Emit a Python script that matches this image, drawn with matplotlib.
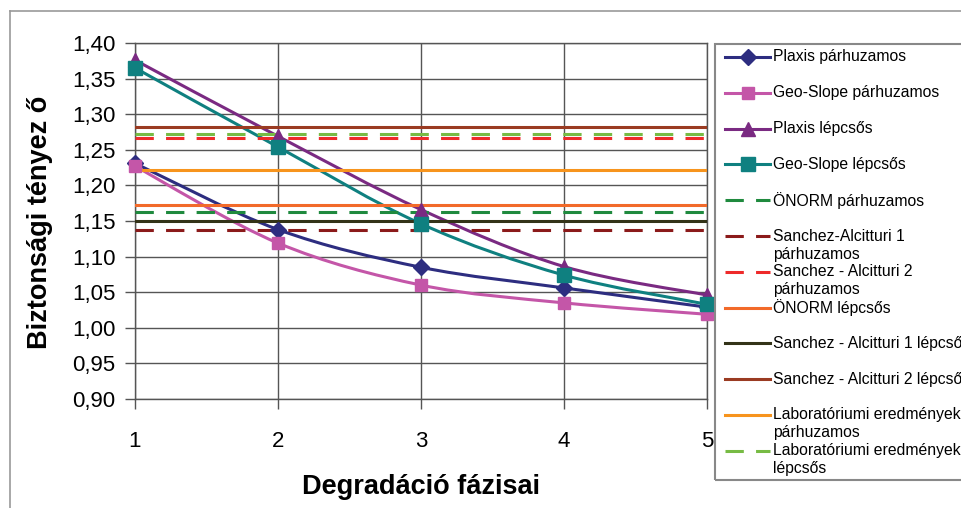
import numpy as np
import matplotlib.pyplot as plt
from matplotlib.path import Path
from matplotlib.patches import PathPatch, Rectangle
from matplotlib.lines import Line2D

plt.rcParams['font.family'] = ['Liberation Sans', 'DejaVu Sans']

# data
phases = [1, 2, 3, 4, 5]
plaxis_par = [1.231, 1.138, 1.085, 1.056, 1.029]
geoslope_par = [1.227, 1.119, 1.060, 1.035, 1.019]
plaxis_lep = [1.376, 1.269, 1.166, 1.086, 1.046]
geoslope_lep = [1.365, 1.254, 1.146, 1.074, 1.033]

onorm_par = 1.163
sanchez1_par = 1.137
sanchez2_par = 1.266
onorm_lep = 1.173
sanchez1_lep = 1.150
sanchez2_lep = 1.282
lab_par = 1.221
lab_lep = 1.272

y_ticks = [0.90, 0.95, 1.00, 1.05, 1.10, 1.15, 1.20, 1.25, 1.30, 1.35, 1.40]

W, H = 961, 508
fig = plt.figure(figsize=(W / 100, H / 100), dpi=100)
ax = fig.add_axes([135 / W, 1 - 399 / H, (707 - 135) / W, (399 - 43) / H])


def px(x, y):
    # pixel position -> figure fraction
    return x / W, 1 - y / H


def smooth_path(xs, ys):
    # bezier curve through the points (like Excel smoothed lines)
    p = np.column_stack([xs, ys]).astype(float)
    n = len(p)
    verts = [p[0]]
    codes = [Path.MOVETO]
    for i in range(n - 1):
        p0 = p[i - 1] if i > 0 else p[i]
        p3 = p[i + 2] if i + 2 < n else p[i + 1]
        c1 = p[i] + (p[i + 1] - p0) / 6
        c2 = p[i + 1] - (p3 - p[i]) / 6
        verts += [c1, c2, p[i + 1]]
        codes += [Path.CURVE4] * 3
    return Path(verts, codes)


series = [
    ("Plaxis párhuzamos", plaxis_par, '#2d2d80', 'D', 8),
    ("Geo-Slope párhuzamos", geoslope_par, '#c456a8', 's', 9),
    ("Plaxis lépcsős", plaxis_lep, '#7a2a82', '^', 10),
    ("Geo-Slope lépcsős", geoslope_lep, '#0f8080', 's', 10),
]

hlines = [
    ("ÖNORM párhuzamos", onorm_par, '#1f8a3e', True),
    ("Sanchez-Alcitturi 1\npárhuzamos", sanchez1_par, '#8b1a1a', True),
    ("Sanchez - Alcitturi 2\npárhuzamos", sanchez2_par, '#ee2a2a', True),
    ("ÖNORM lépcsős", onorm_lep, '#f26a2a', False),
    ("Sanchez - Alcitturi 1 lépcsős", sanchez1_lep, '#333318', False),
    ("Sanchez - Alcitturi 2 lépcsős", sanchez2_lep, '#9a3b22', False),
    ("Laboratóriumi eredmények\npárhuzamos", lab_par, '#f7941d', False),
    ("Laboratóriumi eredmények\nlépcsős", lab_lep, '#77bb44', True),
]

lw = 2.2
for label, vals, color, marker, ms in series:
    ax.add_patch(PathPatch(smooth_path(phases, vals), fill=False,
                           edgecolor=color, lw=lw, zorder=3))
for label, val, color, dashed in hlines:
    if dashed:
        ax.axhline(val, color=color, lw=lw, dashes=(6, 4), zorder=4)
    else:
        ax.axhline(val, color=color, lw=lw, zorder=4)
for label, vals, color, marker, ms in series:
    ax.plot(phases, vals, linestyle='none', marker=marker, ms=ms,
            color=color, zorder=5, clip_on=False)

ax.set_xlim(1, 5)
ax.set_ylim(0.90, 1.40)
ax.set_xticks(phases)
ax.set_yticks(y_ticks)
ax.set_yticklabels([f"{v:.2f}".replace('.', ',') for v in y_ticks])
ax.tick_params(axis='both', labelsize=16, length=7, width=1, color='#555555')
ax.tick_params(axis='y', pad=7)
ax.tick_params(axis='x', pad=16)
ax.grid(True, color='#555555', lw=1)
ax.set_axisbelow(True)
for s in ax.spines.values():
    s.set_color('#555555')
    s.set_linewidth(1)

fig.text(*px(40, 222), "Biztonsági tényez ő", rotation=90, fontsize=19.5,
         fontweight='bold', ha='center', va='center')
fig.text(*px(421, 487), "Degradáció fázisai", fontsize=19.5,
         fontweight='bold', ha='center', va='center')

# outer chart border (cut by the image edge)
fig.add_artist(Line2D([10 / W, 10 / W], [0, 1 - 11 / H], color='#999999', lw=1.2))
fig.add_artist(Line2D([10 / W, 1], [1 - 11 / H, 1 - 11 / H], color='#999999', lw=1.2))

# legend box drawn by hand
fig.add_artist(Rectangle(px(715, 480), (300) / W, (480 - 44) / H,
                         transform=fig.transFigure, fill=False,
                         edgecolor='#888888', lw=1.5))
entries = [(l, c, m, ms, False) for l, v, c, m, ms in series] + \
          [(l, c, None, 0, d) for l, v, c, d in hlines]
y0 = 57
step = 35.8
for i, (label, color, marker, ms, dashed) in enumerate(entries):
    yh = y0 + i * step
    xa, ya = px(725, yh)
    xb, _ = px(770, yh)
    ln = Line2D([xa, xb], [ya, ya], color=color, lw=lw)
    if dashed:
        ln.set_dashes((6, 4))
    fig.add_artist(ln)
    if marker:
        fig.add_artist(Line2D([(xa + xb) / 2], [ya], marker=marker, ms=ms,
                              color=color, linestyle='none'))
    for k, part in enumerate(label.split('\n')):
        fig.text(*px(773, yh + k * 18), part, fontsize=11.3, ha='left', va='center')

fig.savefig('out.png', dpi=100)
